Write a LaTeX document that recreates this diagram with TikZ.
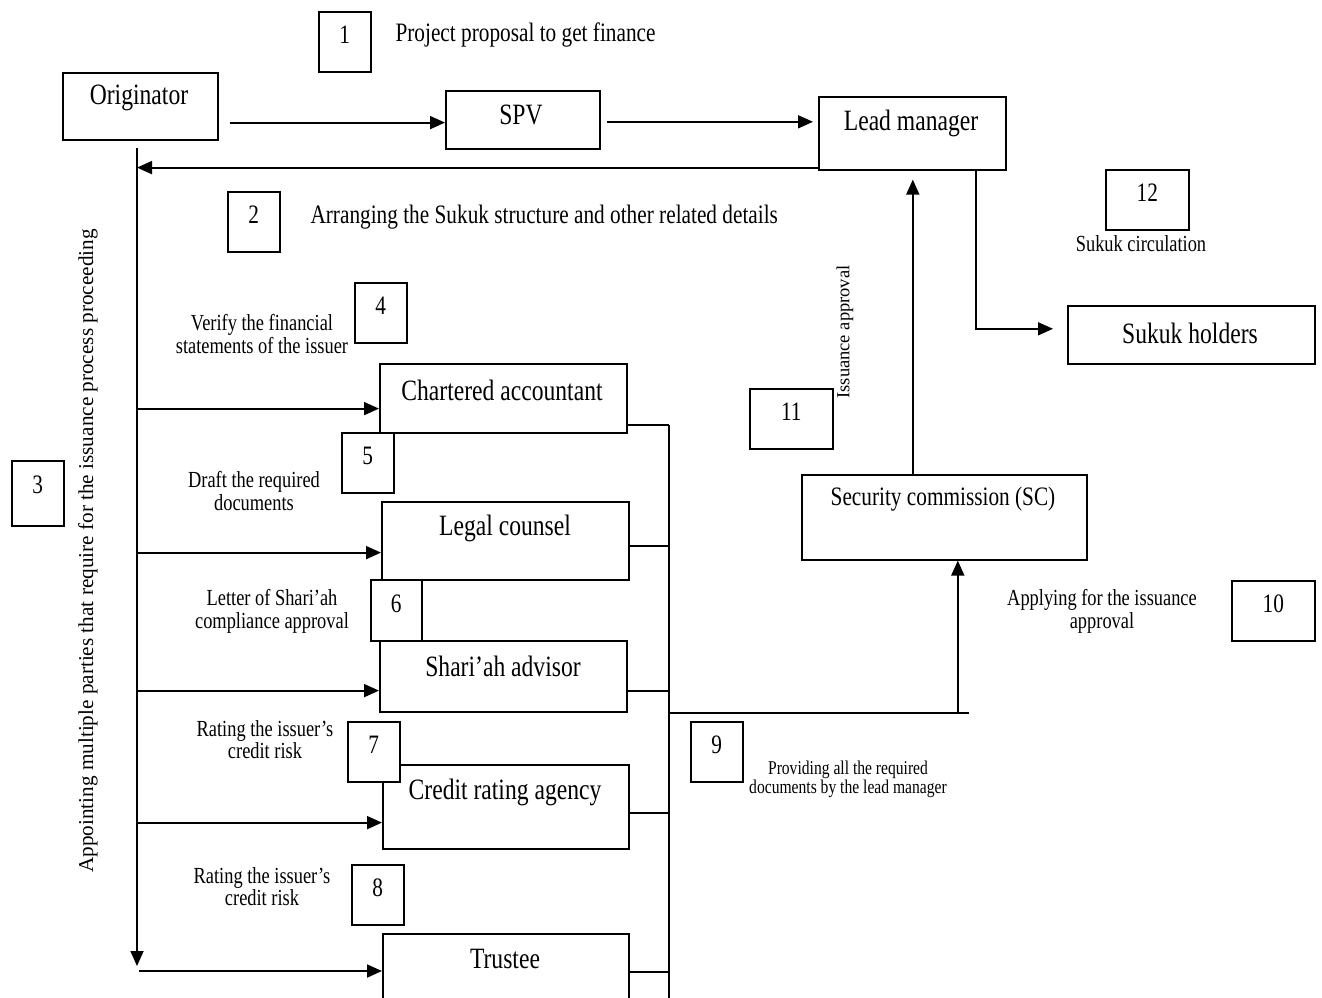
\documentclass[tikz,border=0pt]{standalone}
\usepackage{fontspec}
\setmainfont{Liberation Serif}
\usepackage{graphicx}
\usetikzlibrary{arrows.meta,calc}

% narrow setting of one-line and two-line texts
\newcommand{\nar}[1]{\scalebox{0.8}[1]{#1}}
\newcommand{\twol}[2]{\scalebox{0.8}[1]{\begin{tabular}{@{}c@{}}#1\\#2\end{tabular}}}

\begin{document}
\begin{tikzpicture}[x=1pt,y=-1pt,
  box/.style={draw, fill=white, line width=1.6pt, inner sep=0pt, anchor=north west},
  arr/.style={line width=1.8pt, -{Triangle[length=15pt,width=13pt]}},
  wire/.style={draw, line width=1.8pt},
  big/.style={font=\fontsize{29.5}{32}\selectfont},
  mid/.style={font=\fontsize{26.6}{28}\selectfont},
  small/.style={font=\fontsize{23}{22}\selectfont, align=center},
  tiny/.style={font=\fontsize{19.5}{18}\selectfont, align=center}]

\fill[white] (0,0) rectangle (1322,997);
\useasboundingbox (0,0) rectangle (1322,997);

% main parties
\node[box, minimum width=155pt, minimum height=67pt] (orig) at (62,72) {};
\node[box, minimum width=154pt, minimum height=58pt] (spv) at (445,90) {};
\node[box, minimum width=187pt, minimum height=73pt] (lead) at (818,96) {};
\node[box, minimum width=247pt, minimum height=58pt] (holders) at (1067,305) {};
\node[box, minimum width=247pt, minimum height=69pt] (chart) at (379,363) {};
\node[box, minimum width=247pt, minimum height=78pt] (legal) at (381,501) {};
\node[box, minimum width=285pt, minimum height=85pt] (sc) at (801,474) {};
\node[box, minimum width=247pt, minimum height=71pt] (shariah) at (379,640) {};
\node[box, minimum width=246pt, minimum height=84pt] (credit) at (382,764) {};
\node[box, minimum width=246pt, minimum height=80pt] (trustee) at (382,933) {};

% step numbers
\node[box, minimum width=52pt, minimum height=60pt] (n1) at (318,11) {};
\node[box, minimum width=52pt, minimum height=60pt] (n2) at (227,191) {};
\node[box, minimum width=52pt, minimum height=65pt] (n3) at (11,460) {};
\node[box, minimum width=52pt, minimum height=60pt] (n4) at (354,282) {};
\node[box, minimum width=52pt, minimum height=60pt] (n5) at (341,432) {};
\node[box, minimum width=51pt, minimum height=61pt] (n6) at (370,579) {};
\node[box, minimum width=52pt, minimum height=60pt] (n7) at (347,721) {};
\node[box, minimum width=52pt, minimum height=60pt] (n8) at (351,864) {};
\node[box, minimum width=52pt, minimum height=60pt] (n9) at (690,721) {};
\node[box, minimum width=83pt, minimum height=60pt] (n10) at (1231,580) {};
\node[box, minimum width=83pt, minimum height=60pt] (n11) at (749,388) {};
\node[box, minimum width=83pt, minimum height=60pt] (n12) at (1105,169) {};

% party names
\node[big] (origT) at (139,98) {\nar{Originator}};
\node[big] (spvT) at (521,115) {\nar{SPV}};
\node[big] (leadT) at (911,123) {\nar{Lead manager}};
\node[big] (holdersT) at (1190,333) {\nar{Sukuk holders}};
\node[big] (chartT) at (502,390) {\nar{Chartered accountant}};
\node[big] (legalT) at (505,528) {\nar{Legal counsel}};
\node[mid] (scT) at (943,499) {\nar{Security commission (SC)}};
\node[big] (shariahT) at (503,666) {\nar{Shari’ah advisor}};
\node[big] (creditT) at (505,792) {\nar{Credit rating agency}};
\node[big] (trusteeT) at (505,959) {\nar{Trustee}};

% numbers
\node[mid] at (n1.center |- 0,35) {\nar{1}};
\node[mid] at (n2.center |- 0,215) {\nar{2}};
\node[mid] at (n3.center |- 0,485) {\nar{3}};
\node[mid] at (n4.center |- 0,306) {\nar{4}};
\node[mid] at (n5.center |- 0,456) {\nar{5}};
\node[mid] at (n6.center |- 0,604) {\nar{6}};
\node[mid] at (n7.center |- 0,745) {\nar{7}};
\node[mid] at (n8.center |- 0,888) {\nar{8}};
\node[mid] at (n9.center |- 0,745) {\nar{9}};
\node[mid] at (n10.center |- 0,604) {\nar{10}};
\node[mid] at (n11.center |- 0,412) {\nar{11}};
\node[mid] at (n12.center |- 0,193) {\nar{12}};

% step descriptions
\node[mid, anchor=west] (t1) at (392,35) {\nar{Project proposal to get finance}};
\node[mid, anchor=west] (t2) at (307,217) {\nar{Arranging the Sukuk structure and other related details}};
\node[small] (t12) at (1141,244) {\nar{Sukuk circulation}};
\node[small] (t4) at (262,337) {\twol{Verify the financial}{statements of the issuer}};
\node[small] (t5) at (254,494) {\twol{Draft the required}{documents}};
\node[small] (t6) at (272,612) {\twol{Letter of Shari’ah}{compliance approval}};
\node[small] (t10) at (1102,612) {\twol{Applying for the issuance}{approval}};
\node[small] (t7) at (265,743) {\twol{Rating the issuer’s}{credit risk}};
\node[small] (t8) at (262,890) {\twol{Rating the issuer’s}{credit risk}};
\node[tiny] (t9) at (848,780) {\twol{Providing all the required}{documents by the lead manager}};
\node[font=\fontsize{18.5}{20}\selectfont, rotate=90] (t11) at (845,332) {Issuance approval};
\node[font=\fontsize{21.2}{24}\selectfont, rotate=90] (t3) at (88,551)
  {Appointing multiple parties that require for the issuance process proceeding};

% top flow
\coordinate (a1) at ([xshift=11pt,yshift=18pt]orig.south east);
\draw[arr] (a1) -- (a1 -| spv.west);
\coordinate (a2) at ([xshift=6pt,yshift=-2pt]spv.east);
\coordinate (a2e) at ([xshift=-5pt]lead.west);
\draw[arr] (a2) -- (a2 -| a2e);

% trunk on the left
\coordinate (vtop) at (137,148);
\coordinate (vbot) at (137,966);
\coordinate (back) at ([yshift=3pt]lead.south west);
\draw[arr] (back) -- (back -| vtop);
\draw[arr] (vtop) -- (vbot);

% appointments
\coordinate (pa) at ([yshift=25pt]chart.south west);
\coordinate (pb) at ([yshift=28pt]legal.south west);
\coordinate (pc) at ([yshift=22pt]shariah.south west);
\coordinate (pd) at ([yshift=27pt]credit.south west);
\coordinate (pe) at ([yshift=-38pt]trustee.north west);
\coordinate (vstart) at ([xshift=2pt]vbot);
\draw[arr] (vtop |- pa) -- (pa);
\draw[arr] (vtop |- pb) -- (pb);
\draw[arr] (vtop |- pc) -- (pc);
\draw[arr] (vtop |- pd) -- (pd);
\draw[arr] (vstart |- pe) -- (pe);

% documents collected on the right
\coordinate (qa) at ([yshift=9pt]chart.south east);
\coordinate (qb) at ([yshift=35pt]legal.south east);
\coordinate (qc) at ([yshift=22pt]shariah.south east);
\coordinate (qd) at ([yshift=37pt]credit.south east);
\coordinate (qe) at ([yshift=-39pt]trustee.north east);
\coordinate (bus) at ([xshift=41pt]qa);
\coordinate (busend) at ([yshift=-80pt]bus |- trustee.north);
\path[wire] (qa) -- (bus);
\path[wire] (qb) -- (bus |- qb);
\path[wire] (qc) -- (bus |- qc);
\path[wire] (qd) -- (bus |- qd);
\path[wire] (qe) -- (bus |- qe);
\path[wire] (bus) -- (busend);

% application to the SC
\coordinate (j) at (bus |- shariah.south);
\coordinate (scin) at ([xshift=13.5pt]sc.south);
\coordinate (jend) at ([xshift=25pt]sc.south |- j);
\path[wire] (j) -- (jend);
\draw[arr] (scin |- j) -- (scin);

% approval back to the lead manager
\coordinate (scout) at ([xshift=-31.5pt]sc.north);
\coordinate (leadin) at ([yshift=-9pt]scout |- lead.south);
\draw[arr] (scout) -- (leadin);

% circulation to the holders
\coordinate (hin) at ([xshift=-14pt,yshift=6pt]holders.west);
\draw[arr] ([xshift=-31pt]lead.south east) |- (hin);

\end{tikzpicture}
\end{document}
